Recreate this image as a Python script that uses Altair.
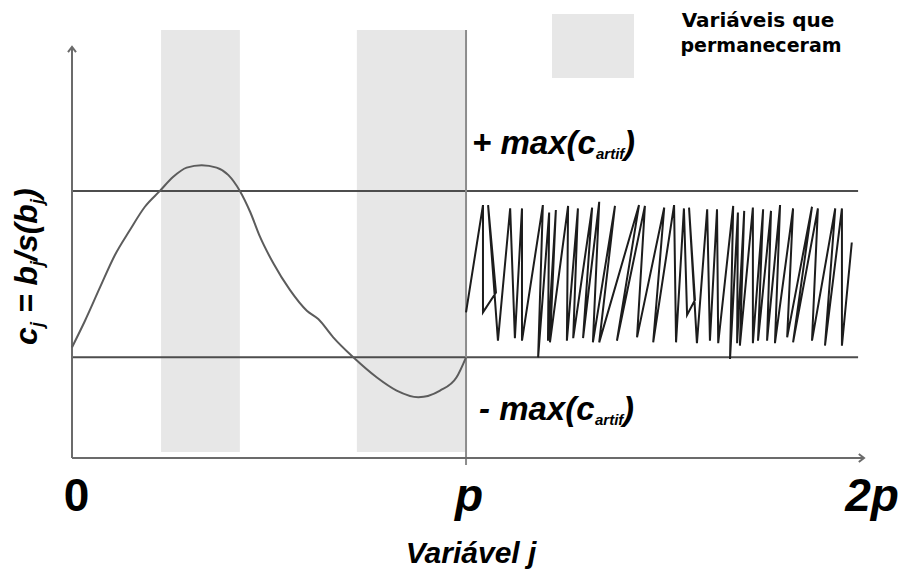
import altair as alt
import pandas as pd

# ---- data -------------------------------------------------------------
P = 100                      # number of original variables (x = j)
X_END = 201                  # end of the horizontal axis arrow (just past 2p)
C_BOTTOM, C_TOP = -2.21, 2.73
MAX_ARTIF = 1.0              # max(c_artif): threshold from the artificial variables

# smooth profile of c_j over the original variables 0..p
curve_j = [0, 3.3, 7.1, 10.9, 14.7, 18.5, 22.3, 25.7, 29.1, 32.9, 36.7, 39.7,
           42.6, 45.2, 47.7, 51.1, 55.3, 59.6, 62.5, 66.3, 71.4, 77.3, 82.4,
           87.9, 93.4, 97.6, 100]
curve_c = [-0.88, -0.56, -0.16, 0.23, 0.53, 0.81, 1.0, 1.17, 1.28, 1.31, 1.28,
           1.19, 1.0, 0.75, 0.45, 0.13, -0.19, -0.44, -0.54, -0.76, -1.0,
           -1.24, -1.40, -1.48, -1.40, -1.24, -1.0]

# noisy c_j for the artificial variables p..2p (in drawing order)
noise_j = [100.0, 104.3, 104.3, 107.6, 105.6, 108.1, 111.2, 112.4, 114.2, 114.2,
           119.5, 118.3, 121.1, 120.8, 122.8, 121.3, 125.9, 125.6, 128.4, 127.2,
           132.0, 129.7, 133.8, 132.2, 137.8, 133.8, 143.9, 138.3, 145.4, 143.4,
           150.3, 147.5, 152.8, 153.3, 155.3, 156.1, 158.1, 156.6, 158.6, 161.2,
           161.9, 163.7, 164.0, 167.8, 167.0, 169.0, 168.8, 170.6, 169.5, 172.8,
           172.8, 175.4, 174.1, 177.4, 176.4, 179.7, 178.4, 183.0, 181.5, 187.8,
           183.0, 189.3, 187.8, 193.7, 191.1, 195.4, 195.4, 197.9]
noise_c = [-0.46, 0.83, -0.46, -0.22, 0.83, -0.80, 0.79, -0.77, 0.79, -0.80,
           0.83, -1.00, 0.74, -0.80, 0.77, -0.82, 0.82, -0.80, 0.79, -0.77,
           0.80, -0.77, 0.87, -0.82, 0.82, -0.82, 0.83, -0.80, 0.82, -0.76,
           0.80, -0.82, 0.83, -0.82, 0.79, -0.49, -0.31, 0.80, -0.83, 0.78,
           -0.80, 0.78, -0.83, 0.82, -1.02, 0.74, -0.83, 0.76, -0.86, 0.80,
           -0.83, 0.78, -0.80, 0.76, -0.80, 0.83, -0.83, 0.79, -0.76, 0.81,
           -0.82, 0.79, -0.80, 0.79, -0.86, 0.79, -0.86, 0.38]

# variables that stayed (|c_j| above the threshold)
band_start = [22.6, 72.3]
band_end = [42.6, 100]
band_top, band_bottom = 2.934, -2.138

tick_values = [0, P, 2 * P]
tick_labels = ["0", "p", "2p"]
tick_italic = [False, True, True]

# ---- scales -----------------------------------------------------------
xs = alt.Scale(domain=[0, X_END], nice=False, zero=False)
ys = alt.Scale(domain=[C_BOTTOM, C_TOP], nice=False, zero=False)
X = lambda f: alt.X(f, type="quantitative", scale=xs, axis=None)
Y = lambda f: alt.Y(f, type="quantitative", scale=ys, axis=None)

BAND = "#e7e7e7"
FONT = "Liberation Sans"

bands = alt.Chart(pd.DataFrame({
    "start": band_start, "end": band_end,
    "top": [band_top] * 2, "bottom": [band_bottom] * 2,
})).mark_rect(color=BAND).encode(x=X("start"), x2="end", y=Y("top"), y2="bottom")

limits = alt.Chart(pd.DataFrame({
    "c": [MAX_ARTIF, -MAX_ARTIF], "x0": [0, 0], "x1": [199.5, 199.5],
})).mark_rule(color="#4d4d4d", strokeWidth=2).encode(x=X("x0"), x2="x1", y=Y("c"))

p_line = alt.Chart(pd.DataFrame({"j": [P], "y0": [band_top], "y1": [-2.294]})).mark_rule(
    color="#8c8c8c", strokeWidth=2).encode(x=X("j"), y=Y("y0"), y2="y1")

y_axis = alt.Chart(pd.DataFrame({"j": [0], "y0": [C_BOTTOM], "y1": [C_TOP]})).mark_rule(
    color="#6b6b6b", strokeWidth=2).encode(x=X("j"), y=Y("y0"), y2="y1")
x_axis = alt.Chart(pd.DataFrame({"c": [C_BOTTOM], "x0": [0], "x1": [X_END]})).mark_rule(
    color="#6b6b6b", strokeWidth=2).encode(x=X("x0"), x2="x1", y=Y("c"))

arrows = alt.Chart(pd.DataFrame({
    "j": [0, X_END], "c": [C_TOP, C_BOTTOM], "rot": [0, 90],
})).mark_point(shape="M -1 1.3 L 0 0 L 1 1.3", filled=False, size=64,
               strokeWidth=2, color="#6b6b6b", opacity=1).encode(
    x=X("j"), y=Y("c"), angle=alt.Angle("rot:Q", scale=None))

curve = alt.Chart(pd.DataFrame({"j": curve_j, "c": curve_c})).mark_line(
    interpolate="monotone", color="#5c5c5c", strokeWidth=2).encode(x=X("j"), y=Y("c"))

noise = alt.Chart(pd.DataFrame({
    "j": noise_j, "c": noise_c, "k": list(range(len(noise_j))),
})).mark_line(color="#1c1c1c", strokeWidth=2).encode(
    x=X("j"), y=Y("c"), order="k:Q")


def text(t, x, y, size, weight="bold", style="italic", align="left",
         baseline="alphabetic", angle=0, font=FONT):
    return alt.Chart(pd.DataFrame({"t": [t]})).mark_text(
        align=align, baseline=baseline, fontSize=size, fontWeight=weight,
        fontStyle=style, font=font, angle=angle, color="black",
    ).encode(x=alt.value(x), y=alt.value(y), text="t:N")


labels = []
# tick labels under the horizontal axis
for v, lab, it, dx in zip(tick_values, tick_labels, tick_italic, [4.5, 3, 12]):
    labels.append(alt.Chart(pd.DataFrame({"j": [v], "t": [lab]})).mark_text(
        align="center", baseline="middle", fontSize=46, fontWeight="bold",
        fontStyle="italic" if it else "normal", font=FONT, dx=dx, color="black",
    ).encode(x=X("j"), y=alt.value(450), text="t:N"))

# axis titles
labels.append(text("Variável j", 399, 516, 30, align="center"))
# c_j = b_j/s(b_j), read bottom to top, with lowered subscripts
for t, x, y, s in [("c", -35, 298, 32), ("j", -29, 280, 18), ("= b", -35, 266, 32),
                   ("j", -29, 219, 18), ("/s(b", -35, 214, 32), ("j", -29, 157, 18),
                   (")", -35, 152, 32)]:
    labels.append(text(t, x, y, s, angle=270))

# threshold annotations
for sign, x0, yb, wmain in [("+ ", 400, 107, 124), ("- ", 407, 373, 116)]:
    labels.append(text(sign + "max(c", x0, yb, 33))
    labels.append(text("artif", x0 + wmain, yb + 5, 15))
    labels.append(text(")", x0 + wmain + 28, yb, 33))

# legend
legend_box = alt.Chart(pd.DataFrame({"t": ["Variáveis que permaneceram"]})).mark_rect(
    color=BAND).encode(x=alt.value(480), x2=alt.value(562), y=alt.value(-33), y2=alt.value(31))
labels.append(text("Variáveis que", 686, -20, 20, style="normal", align="center",
                   font="DejaVu Sans"))
labels.append(text("permaneceram", 689, 5, 19, style="normal", align="center",
                   font="DejaVu Sans"))

chart = alt.layer(
    bands, legend_box, limits, p_line, y_axis, x_axis, arrows, curve, noise, *labels
).properties(
    width=792, height=411,
    padding={"left": 72, "top": 47, "right": 36, "bottom": 113},
    autosize=alt.AutoSizeParams(type="none"),
    background="white",
).configure_view(stroke=None)

chart.save("out.html", embed_options={"renderer": "svg", "actions": False})
